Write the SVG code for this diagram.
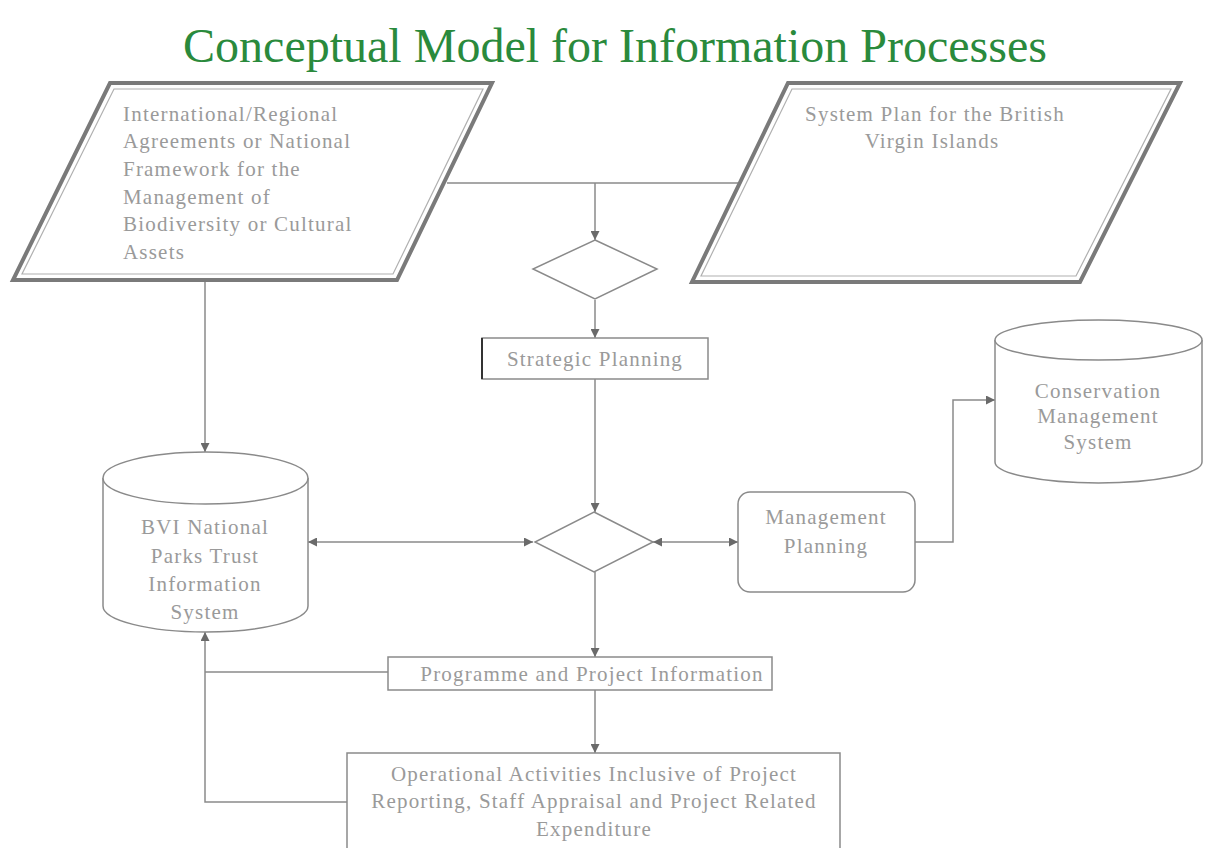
<svg xmlns="http://www.w3.org/2000/svg" width="1211" height="848" viewBox="0 0 1211 848">
<style>
  .t { font-family: "Liberation Serif", "Times New Roman", serif; fill: #9a9a9a; font-size: 21px; letter-spacing: 1.2px; }
  .c { text-anchor: middle; }
  .title { font-family: "Liberation Serif", "Times New Roman", serif; fill: #2a8a3c; font-size: 48px; text-anchor: middle; }
  .ln { fill: none; stroke: #8a8a8a; stroke-width: 1.5; }
  .box { fill: #fff; stroke: #8a8a8a; stroke-width: 1.5; }
  .outer { fill: #fff; stroke: #7a7a7a; stroke-width: 4; }
  .inner { fill: none; stroke: #b0b0b0; stroke-width: 1.2; }
</style>
<defs>
  <marker id="ah" viewBox="0 0 10 10" refX="10" refY="5" markerWidth="9" markerHeight="9" markerUnits="userSpaceOnUse" orient="auto-start-reverse">
    <path d="M0,0 L10,5 L0,10 z" fill="#6a6a6a"/>
  </marker>
</defs>
<rect width="1211" height="848" fill="#fff"/>
<text class="title" x="615" y="62">Conceptual Model for Information Processes</text>

<g id="connectors">
  <line class="ln" x1="447" y1="183" x2="742" y2="183"/>
  <line class="ln" x1="595" y1="183" x2="595" y2="240" marker-end="url(#ah)"/>
  <line class="ln" x1="595" y1="300" x2="595" y2="338" marker-end="url(#ah)" stroke-width="2"/>
  <line class="ln" x1="595" y1="379" x2="595" y2="512" marker-end="url(#ah)"/>
  <line class="ln" x1="205" y1="282" x2="205" y2="452" marker-end="url(#ah)"/>
  <line class="ln" x1="308" y1="542" x2="533" y2="542" marker-start="url(#ah)" marker-end="url(#ah)"/>
  <line class="ln" x1="653" y1="542" x2="738" y2="542" marker-start="url(#ah)" marker-end="url(#ah)"/>
  <polyline class="ln" points="915,542 953,542 953,400 995,400" marker-end="url(#ah)"/>
  <line class="ln" x1="595" y1="572" x2="595" y2="657" marker-end="url(#ah)"/>
  <line class="ln" x1="595" y1="690" x2="595" y2="753" marker-end="url(#ah)"/>
  <polyline class="ln" points="347,802 205,802 205,632" marker-end="url(#ah)"/>
  <line class="ln" x1="388" y1="672" x2="205" y2="672"/>
</g>

<g id="n-intl">
  <polygon class="outer" points="110,83 492,83 397,280 13,280"/>
  <polygon class="inner" points="114,89 483,89 393,274 22,274"/>
  <text class="t" x="123" y="121">International/Regional</text>
  <text class="t" x="123" y="148">Agreements or National</text>
  <text class="t" x="123" y="176">Framework for the</text>
  <text class="t" x="123" y="204">Management of</text>
  <text class="t" x="123" y="231">Biodiversity or Cultural</text>
  <text class="t" x="123" y="259">Assets</text>
</g>

<g id="n-system">
  <polygon class="outer" points="788,83 1180,83 1080,282 692,282"/>
  <polygon class="inner" points="792,89 1171,89 1076,276 701,276"/>
  <text class="t c" x="935" y="121">System Plan for the British</text>
  <text class="t c" x="932" y="148">Virgin Islands</text>
</g>

<g id="n-decision1">
  <polygon class="box" points="595,240 657,269 595,299 533,269"/>
</g>

<g id="n-strategic">
  <rect class="box" x="482" y="338" width="226" height="41"/>
  <line x1="482" y1="338" x2="482" y2="379" stroke="#333" stroke-width="2"/>
  <text class="t c" x="595" y="366">Strategic Planning</text>
</g>

<g id="n-decision2">
  <polygon class="box" points="594,512 653,542 594,572 535,542"/>
</g>

<g id="n-bvi">
  <path class="box" d="M103,478 L103,606 A102.5,26 0 0 0 308,606 L308,478"/>
  <ellipse class="box" cx="205.5" cy="478" rx="102.5" ry="26"/>
  <text class="t c" x="205" y="534">BVI National</text>
  <text class="t c" x="205" y="563">Parks Trust</text>
  <text class="t c" x="205" y="591">Information</text>
  <text class="t c" x="205" y="619">System</text>
</g>

<g id="n-mgmt">
  <rect class="box" x="738" y="492" width="177" height="100" rx="12"/>
  <text class="t c" x="826" y="524">Management</text>
  <text class="t c" x="826" y="553">Planning</text>
</g>

<g id="n-cms">
  <path class="box" d="M995,340 L995,462 A103.5,21 0 0 0 1202,462 L1202,340"/>
  <ellipse class="box" cx="1098.5" cy="340" rx="103.5" ry="20"/>
  <text class="t c" x="1098" y="398">Conservation</text>
  <text class="t c" x="1098" y="423">Management</text>
  <text class="t c" x="1098" y="449">System</text>
</g>

<g id="n-programme">
  <rect class="box" x="388" y="657" width="384" height="33"/>
  <text class="t c" x="592" y="681">Programme and Project Information</text>
</g>

<g id="n-operational">
  <rect class="box" x="347" y="753" width="493" height="100"/>
  <text class="t c" x="594" y="781">Operational Activities Inclusive of Project</text>
  <text class="t c" x="594" y="808">Reporting, Staff Appraisal and Project Related</text>
  <text class="t c" x="594" y="836">Expenditure</text>
</g>
</svg>
